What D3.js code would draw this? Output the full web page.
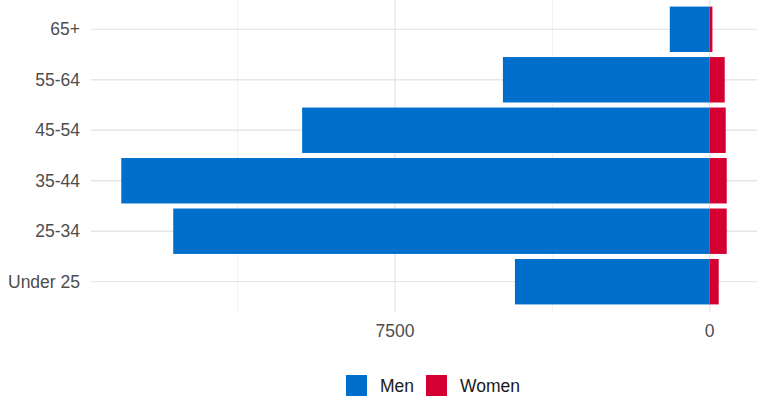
<!DOCTYPE html>
<html>
<head>
<meta charset="utf-8">
<script src="https://cdn.jsdelivr.net/npm/d3@7"></script>
<style>
  body { margin: 0; background: #fff; }
  svg { display: block; font-family: "Liberation Sans", Arial, sans-serif; }
</style>
</head>
<body>
<div id="chart"></div>
<script>
// age groups, top to bottom
const ageGroups = ["65+", "55-64", "45-54", "35-44", "25-34", "Under 25"];
const men = [952, 4929, 9714, 14024, 12786, 4643];
const women = [64, 357, 381, 405, 405, 214];
const seriesNames = ["Men", "Women"];
const seriesColors = ["#006fcc", "#d50032"];
const majorTicks = [-15000, -7500, 0];
const minorTicks = [-11250, -3750, 3750];

const width = 761, height = 409;
const margin = { top: -1, right: 4, bottom: 97, left: 91 };

const svg = d3.select('#chart')
  .append('svg')
  .attr('width', width)
  .attr('height', height);

// men go left (negative), women right
const lo = -d3.max(men), hi = d3.max(women);
const pad = (hi - lo) * 0.05;
const x = d3.scaleLinear()
  .domain([lo - pad, hi + pad])
  .range([margin.left, width - margin.right]);

const step = (height - margin.bottom - margin.top) / (ageGroups.length + 0.2);
const y = d3.scaleBand()
  .domain(ageGroups)
  .range([margin.top + step * 0.1, margin.top + step * 0.1 + step * ageGroups.length])
  .paddingInner(0.1)
  .paddingOuter(0.05);

const panelTop = margin.top, panelBottom = height - margin.bottom;

// grid
const grid = svg.append('g');
grid.selectAll('.minor')
  .data(minorTicks.filter(t => x(t) >= margin.left && x(t) <= width - margin.right))
  .join('line')
  .attr('x1', d => x(d)).attr('x2', d => x(d))
  .attr('y1', panelTop).attr('y2', panelBottom)
  .attr('stroke', '#ececec').attr('stroke-width', 0.8);
grid.selectAll('.major')
  .data(majorTicks.filter(t => x(t) >= margin.left))
  .join('line')
  .attr('x1', d => x(d)).attr('x2', d => x(d))
  .attr('y1', panelTop).attr('y2', panelBottom)
  .attr('stroke', '#e6e6e6').attr('stroke-width', 1.3);
grid.selectAll('.hline')
  .data(ageGroups)
  .join('line')
  .attr('x1', margin.left).attr('x2', width - margin.right)
  .attr('y1', d => y(d) + y.bandwidth() / 2)
  .attr('y2', d => y(d) + y.bandwidth() / 2)
  .attr('stroke', '#e6e6e6').attr('stroke-width', 1.3);

// bars
svg.append('g').selectAll('rect')
  .data(ageGroups.map((g, i) => ({ g, v: -men[i] })))
  .join('rect')
  .attr('x', d => x(d.v))
  .attr('width', d => x(0) - x(d.v))
  .attr('y', d => y(d.g))
  .attr('height', y.bandwidth())
  .attr('fill', seriesColors[0]);

svg.append('g').selectAll('rect')
  .data(ageGroups.map((g, i) => ({ g, v: women[i] })))
  .join('rect')
  .attr('x', x(0))
  .attr('width', d => x(d.v) - x(0))
  .attr('y', d => y(d.g))
  .attr('height', y.bandwidth())
  .attr('fill', seriesColors[1]);

// y labels
svg.append('g').selectAll('text')
  .data(ageGroups)
  .join('text')
  .attr('x', 80)
  .attr('y', d => y(d) + y.bandwidth() / 2)
  .attr('dy', '0.35em')
  .attr('text-anchor', 'end')
  .style('font-size', '17.5px')
  .style('fill', '#4d4d4d')
  .text(d => d);

// x labels (absolute values)
svg.append('g').selectAll('text')
  .data(majorTicks.filter(t => x(t) >= margin.left))
  .join('text')
  .attr('x', d => x(d))
  .attr('y', 337)
  .attr('text-anchor', 'middle')
  .style('font-size', '17.5px')
  .style('fill', '#4d4d4d')
  .text(d => Math.abs(d));

// legend
const legend = svg.append('g');
const legendX = [346, 426];
seriesNames.forEach((name, i) => {
  legend.append('rect')
    .attr('x', legendX[i]).attr('y', 375)
    .attr('width', 21).attr('height', 21)
    .attr('fill', seriesColors[i]);
  legend.append('text')
    .attr('x', legendX[i] + 34).attr('y', 392)
    .style('font-size', '17.5px')
    .style('fill', '#1a1a1a')
    .text(name);
});
</script>
</body>
</html>
